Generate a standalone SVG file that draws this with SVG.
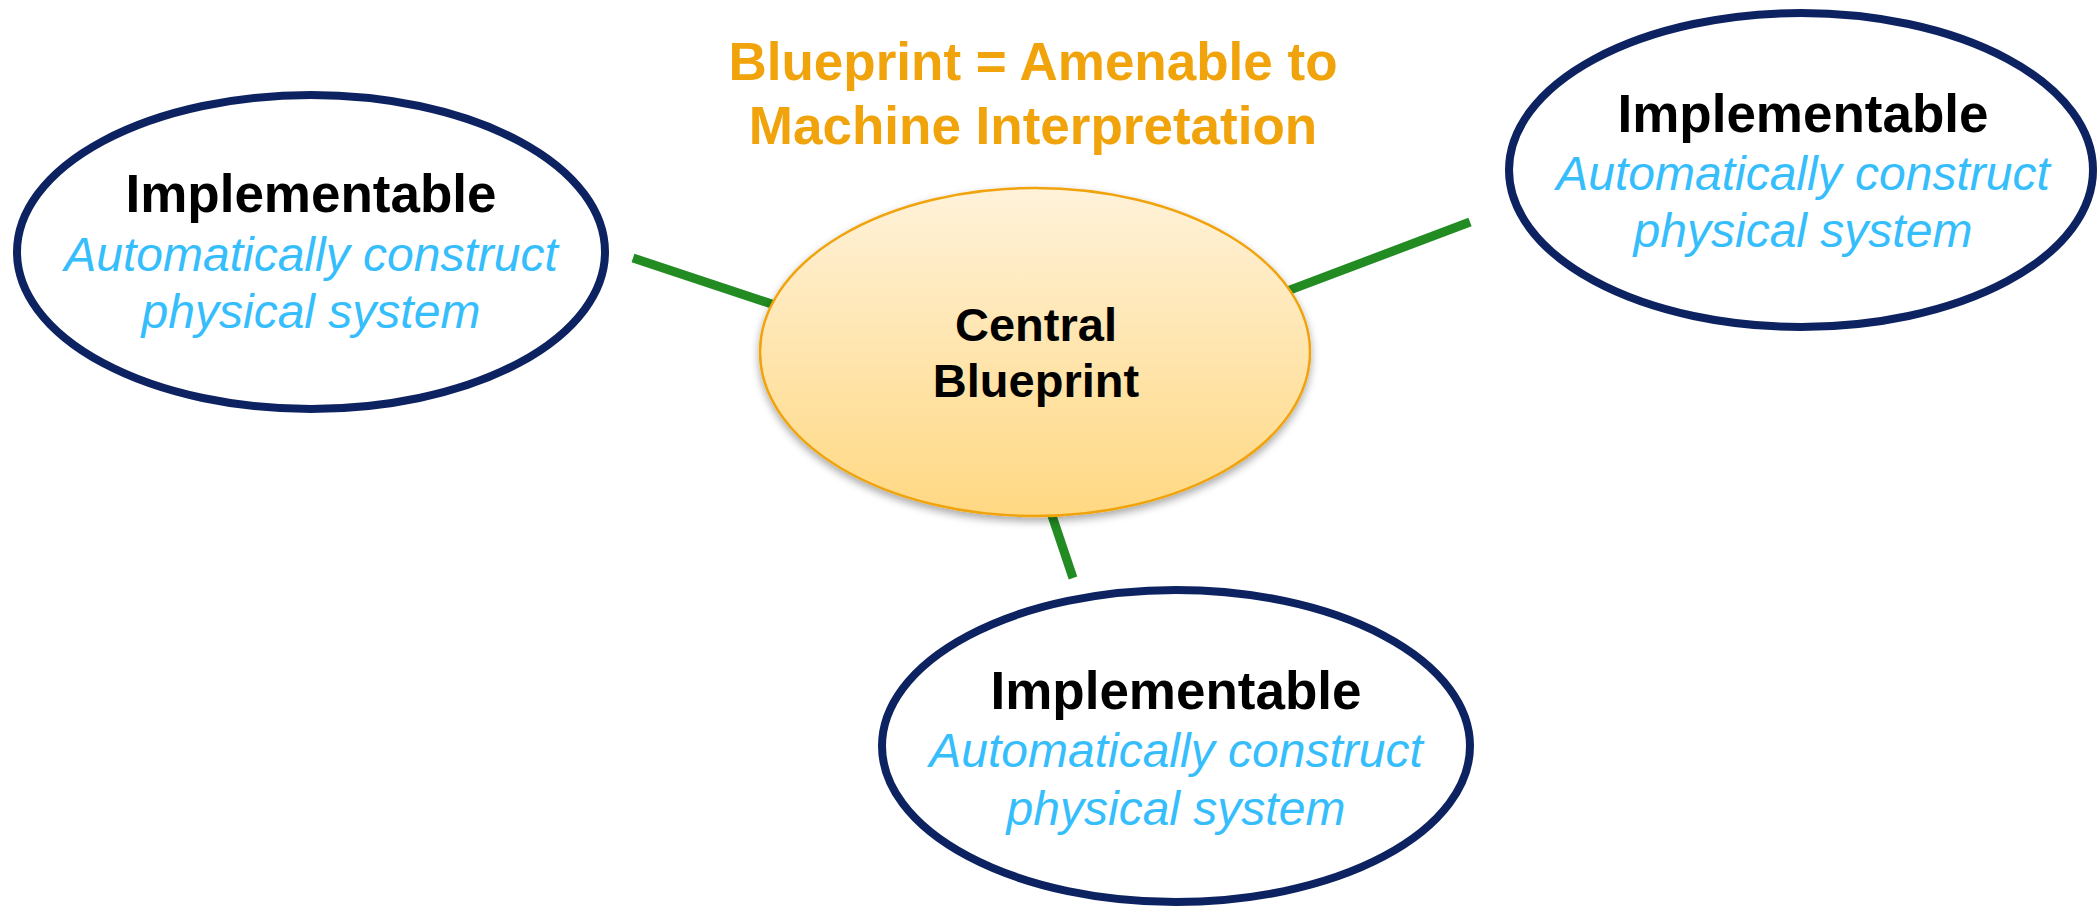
<svg xmlns="http://www.w3.org/2000/svg" width="2099" height="907" viewBox="0 0 2099 907">
  <style>
    .outer { fill: #FFFFFF; stroke: #0D2260; stroke-width: 8; }
    .head { font-family: "Liberation Sans", Arial, sans-serif; font-weight: bold; font-size: 53px; fill: #000000; text-anchor: middle; }
    .sub { font-family: "Liberation Sans", Arial, sans-serif; font-style: italic; font-size: 48px; fill: #36BEFC; text-anchor: middle; }
    .title { font-family: "Liberation Sans", Arial, sans-serif; font-weight: bold; font-size: 53px; fill: #F0A30A; text-anchor: middle; }
    .center { font-family: "Liberation Sans", Arial, sans-serif; font-weight: bold; font-size: 47px; fill: #000000; text-anchor: middle; }
    .conn { stroke: #228B22; stroke-width: 9; fill: none; stroke-linecap: butt; }
  </style>
  <defs>
    <linearGradient id="gold" x1="0" y1="0" x2="0" y2="1">
      <stop offset="0" stop-color="#FFF2DA"/>
      <stop offset="1" stop-color="#FFD882"/>
    </linearGradient>
    <filter id="shadow" x="-10%" y="-10%" width="120%" height="125%">
      <feGaussianBlur in="SourceAlpha" stdDeviation="4"/>
      <feOffset dx="0" dy="4" result="b"/>
      <feComponentTransfer><feFuncA type="linear" slope="0.35"/></feComponentTransfer>
      <feMerge><feMergeNode/><feMergeNode in="SourceGraphic"/></feMerge>
    </filter>
  </defs>

  <g id="title">
    <text class="title" x="1033" y="80">Blueprint = Amenable to</text>
    <text class="title" x="1033" y="144">Machine Interpretation</text>
  </g>

  <g id="connectors">
    <line class="conn" x1="633" y1="258" x2="820" y2="320"/>
    <line class="conn" x1="1470" y1="222" x2="1200" y2="324"/>
    <line class="conn" x1="1073" y1="578" x2="1040" y2="480"/>
  </g>

  <g id="node-left">
    <ellipse class="outer" cx="311" cy="252" rx="294" ry="157"/>
    <text class="head" x="311" y="212">Implementable</text>
    <text class="sub" x="311" y="271">Automatically construct</text>
    <text class="sub" x="311" y="328">physical system</text>
  </g>

  <g id="node-right">
    <ellipse class="outer" cx="1801" cy="170" rx="292" ry="157"/>
    <text class="head" x="1803" y="132">Implementable</text>
    <text class="sub" x="1803" y="190">Automatically construct</text>
    <text class="sub" x="1803" y="247">physical system</text>
  </g>

  <g id="node-bottom">
    <ellipse class="outer" cx="1176" cy="746" rx="294" ry="156"/>
    <text class="head" x="1176" y="709">Implementable</text>
    <text class="sub" x="1176" y="767">Automatically construct</text>
    <text class="sub" x="1176" y="825">physical system</text>
  </g>

  <g id="node-center">
    <ellipse cx="1035" cy="352" rx="275" ry="164" fill="url(#gold)" stroke="#F0A30A" stroke-width="2.5" filter="url(#shadow)"/>
    <text class="center" x="1036" y="341">Central</text>
    <text class="center" x="1036" y="397">Blueprint</text>
  </g>
</svg>
